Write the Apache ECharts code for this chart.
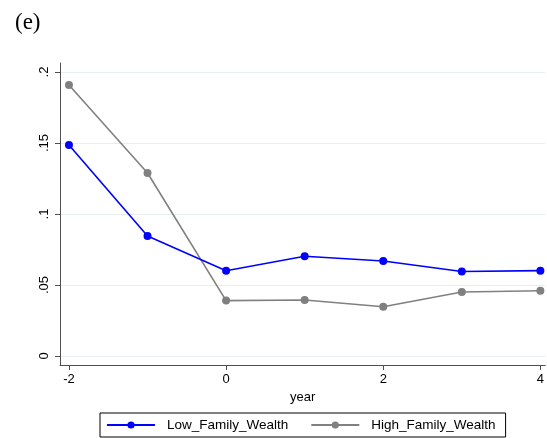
<!DOCTYPE html>
<html>
<head>
<meta charset="utf-8">
<script src="https://cdn.jsdelivr.net/npm/echarts@6/dist/echarts.min.js"></script>
<style>
  html, body { margin: 0; padding: 0; background: #fff; }
  #chart { width: 547px; height: 438px; }
</style>
</head>
<body>
<div id="chart"></div>
<script>
// Event-time coefficients by family wealth group
const years = [-2, -1, 0, 1, 2, 3, 4];
const lowFamilyWealth = [0.1486, 0.0845, 0.0600, 0.0702, 0.0669, 0.0595, 0.0601];
const highFamilyWealth = [0.1908, 0.1289, 0.0390, 0.0394, 0.0347, 0.0451, 0.0460];
const xTicks = [-2, 0, 2, 4];
const yTicks = [0, 0.05, 0.1, 0.15, 0.2];

const fmtY = v => v === 0 ? '0' : String(+v.toFixed(2)).replace(/^0\./, '.');

const chart = echarts.init(document.getElementById('chart'), null, { renderer: 'canvas' });
const axisColor = '#505050';
const font = 'Liberation Sans, Arial, sans-serif';

chart.setOption({
  animation: false,
  backgroundColor: '#ffffff',
  title: {
    text: '(e)',
    left: 10,
    top: 6,
    textStyle: { fontFamily: 'Liberation Serif, DejaVu Serif, serif', fontSize: 23, fontWeight: 'normal', color: '#000' }
  },
  grid: { left: 60, right: 0, top: 63, bottom: 73, containLabel: false },
  legend: {
    bottom: 1,
    left: 100,
    borderColor: '#000',
    borderWidth: 1,
    padding: [5, 10, 5, 6],
    itemWidth: 48,
    itemHeight: 9,
    itemGap: 22,
    textStyle: { fontFamily: font, fontSize: 13.5, color: '#000', padding: [0, 0, 0, 7] },
    data: ['Low_Family_Wealth', 'High_Family_Wealth']
  },
  xAxis: {
    type: 'value',
    min: -2.114,
    max: 4.063,
    name: 'year',
    nameLocation: 'middle',
    nameGap: 26,
    nameTextStyle: { fontFamily: font, fontSize: 13, color: '#000' },
    axisLine: { show: true, onZero: false, lineStyle: { color: axisColor, width: 1 } },
    axisTick: { show: true, length: 5, customValues: xTicks, lineStyle: { color: axisColor } },
    axisLabel: { customValues: xTicks, margin: 8, fontFamily: font, fontSize: 13, color: '#000', formatter: v => String(v) },
    splitLine: { show: false }
  },
  yAxis: {
    type: 'value',
    min: -0.00634,
    max: 0.20634,
    axisLine: { show: true, onZero: false, lineStyle: { color: axisColor, width: 1 } },
    axisTick: { show: true, length: 5, customValues: yTicks, lineStyle: { color: axisColor } },
    axisLabel: { customValues: yTicks, rotate: 90, margin: 9, fontFamily: font, fontSize: 13, color: '#000', formatter: fmtY },
    splitLine: { show: true, customValues: yTicks.slice(1), lineStyle: { color: '#e6eef0', width: 1 } }
  },
  series: [
    {
      name: 'Low_Family_Wealth',
      type: 'line',
      data: years.map((y, i) => [y, lowFamilyWealth[i]]),
      symbol: 'circle',
      symbolSize: 8,
      itemStyle: { color: '#0000ff' },
      lineStyle: { color: '#0000ff', width: 1.6 },
      z: 3
    },
    {
      name: 'High_Family_Wealth',
      type: 'line',
      data: years.map((y, i) => [y, highFamilyWealth[i]]),
      symbol: 'circle',
      symbolSize: 8,
      itemStyle: { color: '#808080' },
      lineStyle: { color: '#808080', width: 1.6 },
      z: 2
    }
  ]
});
</script>
</body>
</html>
